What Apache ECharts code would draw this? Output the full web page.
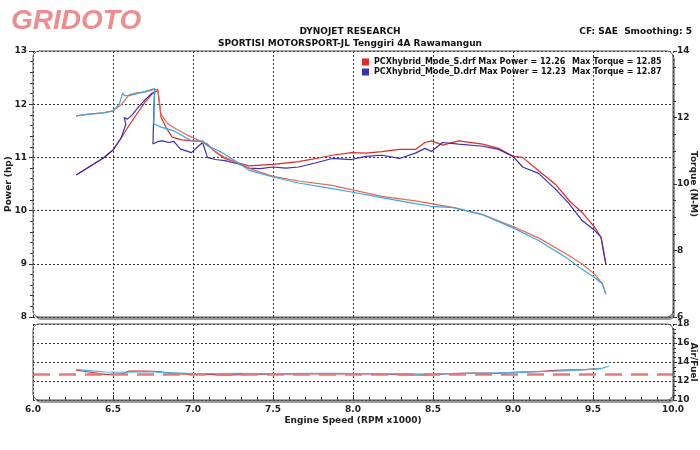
<!DOCTYPE html>
<html><head><meta charset="utf-8">
<script src="https://cdn.jsdelivr.net/npm/echarts@6/dist/echarts.min.js"></script>
<style>html,body{margin:0;padding:0;background:#fff}#c{width:700px;height:450px}</style>
</head><body><div id="c"></div>
<script>
// ---------- data ----------
const runNames = ['PCXhybrid_Mode_S.drf', 'PCXhybrid_Mode_D.drf'];
const maxPower = [12.26, 12.23];
const maxTorque = [12.85, 12.87];
const xTicks = [6.0, 6.5, 7.0, 7.5, 8.0, 8.5, 9.0, 9.5, 10.0];

const rpmPowerS = [6.27, 6.35, 6.44, 6.50, 6.55, 6.60, 6.65, 6.70, 6.74, 6.78, 6.79, 6.80, 6.83, 6.87, 6.93, 7.00, 7.05, 7.09, 7.14, 7.20, 7.28, 7.35, 7.50, 7.66, 7.77, 7.87, 7.99, 8.08, 8.18, 8.29, 8.39, 8.45, 8.49, 8.56, 8.66, 8.81, 8.91, 9.00, 9.06, 9.16, 9.27, 9.35, 9.43, 9.51, 9.55, 9.58];
const powerS = [10.67, 10.82, 10.99, 11.14, 11.36, 11.60, 11.82, 12.04, 12.18, 12.26, 12.02, 11.76, 11.57, 11.38, 11.33, 11.31, 11.30, 11.25, 11.10, 10.98, 10.90, 10.84, 10.87, 10.92, 10.98, 11.04, 11.09, 11.08, 11.11, 11.15, 11.15, 11.28, 11.31, 11.23, 11.31, 11.25, 11.17, 11.02, 11.00, 10.75, 10.48, 10.19, 9.97, 9.69, 9.50, 9.00];

const rpmPowerD = [6.27, 6.35, 6.44, 6.50, 6.55, 6.58, 6.57, 6.59, 6.62, 6.66, 6.70, 6.74, 6.76, 6.755, 6.75, 6.78, 6.81, 6.85, 6.88, 6.92, 6.99, 7.03, 7.06, 7.09, 7.14, 7.20, 7.28, 7.35, 7.42, 7.50, 7.58, 7.66, 7.77, 7.87, 7.99, 8.08, 8.18, 8.29, 8.39, 8.45, 8.49, 8.56, 8.66, 8.81, 8.91, 9.00, 9.06, 9.16, 9.27, 9.35, 9.43, 9.51, 9.55, 9.58];
const powerD = [10.67, 10.82, 10.99, 11.14, 11.36, 11.62, 11.75, 11.72, 11.80, 11.95, 12.08, 12.20, 12.23, 11.90, 11.25, 11.30, 11.31, 11.28, 11.30, 11.16, 11.09, 11.20, 11.28, 11.00, 10.96, 10.94, 10.88, 10.80, 10.79, 10.82, 10.80, 10.82, 10.90, 10.98, 10.96, 11.02, 11.04, 10.98, 11.08, 11.17, 11.11, 11.28, 11.25, 11.21, 11.15, 11.02, 10.82, 10.70, 10.39, 10.13, 9.82, 9.63, 9.50, 9.00];

const rpmTorqueS = [6.27, 6.35, 6.44, 6.50, 6.55, 6.60, 6.65, 6.70, 6.75, 6.78, 6.80, 6.84, 6.90, 6.96, 7.02, 7.08, 7.14, 7.20, 7.28, 7.35, 7.50, 7.66, 7.87, 7.99, 8.18, 8.39, 8.49, 8.63, 8.81, 9.00, 9.16, 9.33, 9.43, 9.51, 9.56, 9.58];
const torqueS = [12.05, 12.10, 12.14, 12.20, 12.38, 12.68, 12.74, 12.77, 12.83, 12.85, 12.10, 11.82, 11.64, 11.48, 11.35, 11.20, 10.98, 10.80, 10.63, 10.47, 10.23, 10.09, 9.96, 9.83, 9.63, 9.49, 9.41, 9.29, 9.08, 8.72, 8.38, 7.90, 7.60, 7.29, 6.99, 6.69];

const rpmTorqueD = [6.27, 6.35, 6.44, 6.50, 6.54, 6.56, 6.57, 6.60, 6.65, 6.70, 6.76, 6.755, 6.80, 6.88, 6.99, 7.03, 7.06, 7.09, 7.18, 7.28, 7.35, 7.50, 7.66, 7.87, 7.99, 8.18, 8.39, 8.49, 8.63, 8.81, 9.00, 9.16, 9.33, 9.43, 9.51, 9.56, 9.58];
const torqueD = [12.05, 12.10, 12.14, 12.20, 12.40, 12.74, 12.66, 12.66, 12.72, 12.78, 12.87, 11.81, 11.71, 11.60, 11.30, 11.28, 11.30, 11.15, 10.95, 10.65, 10.41, 10.21, 10.03, 9.86, 9.76, 9.59, 9.41, 9.33, 9.29, 9.08, 8.68, 8.30, 7.80, 7.44, 7.19, 6.99, 6.69];

const rpmAfrS = [6.27, 6.35, 6.45, 6.55, 6.60, 6.70, 6.79, 6.85, 7.00, 7.10, 7.20, 7.35, 7.50, 7.65, 7.80, 8.00, 8.15, 8.30, 8.45, 8.60, 8.75, 8.90, 9.00, 9.15, 9.30, 9.45, 9.55];
const afrS = [13.15, 12.95, 12.70, 12.70, 13.05, 13.05, 13.00, 12.80, 12.70, 12.70, 12.62, 12.70, 12.72, 12.75, 12.78, 12.75, 12.75, 12.68, 12.62, 12.78, 12.82, 12.80, 12.90, 13.00, 13.15, 13.20, 13.30];

const rpmAfrD = [6.27, 6.35, 6.45, 6.55, 6.65, 6.75, 6.85, 7.00, 7.15, 7.30, 7.50, 7.70, 7.90, 8.10, 8.30, 8.50, 8.70, 8.90, 9.05, 9.20, 9.35, 9.50, 9.56, 9.60];
const afrD = [13.22, 13.10, 12.95, 12.92, 12.95, 12.95, 12.88, 12.78, 12.78, 12.80, 12.75, 12.80, 12.80, 12.78, 12.75, 12.72, 12.80, 12.85, 12.90, 13.00, 13.10, 13.25, 13.35, 13.55];

const afrTarget = 12.67;

// ---------- layout & style ----------
const PL = 33, PW = 640, T1 = 51, H1 = 266, T2 = 324, H2 = 76;
const FONT = 'DejaVu Sans';
const dotted = { color: '#333', width: 1, type: [2, 2] };
const lbl = { color: '#222', fontFamily: FONT, fontWeight: 'bold', fontSize: 9 };
const pair = (xs, ys) => xs.map((x, i) => [x, ys[i]]);

const colors = {
  powerS: '#e02a2a', torqueS: '#e8684e',
  powerD: '#3a2fae', torqueD: '#3aa6e6',
  afrS: '#d83232', afrD: '#4ab0ea'
};

const chart = echarts.init(document.getElementById('c'), null, { renderer: 'canvas' });

const lineSeries = (name, xs, ys, color, xi, yi, extra) => Object.assign({
  name, type: 'line', xAxisIndex: xi, yAxisIndex: yi,
  data: pair(xs, ys), showSymbol: false, symbol: 'none', smooth: false,
  lineStyle: { color, width: 1.2 }, itemStyle: { color }, animation: false, z: 3
}, extra || {});

const panel = (y, h) => ([
  { type: 'rect', shape: { x: PL + 2, y: y + 3, width: PW, height: h, r: 6 }, z: -6, silent: true,
    style: { fill: '#9a9a9a' } },
  { type: 'rect', shape: { x: PL, y: y, width: PW, height: h, r: 6 }, z: -5, silent: true,
    style: { fill: '#fff' } },
  { type: 'rect', shape: { x: PL, y: y, width: PW, height: h, r: 6 }, z: 50, silent: true,
    style: { fill: 'none', stroke: '#555', lineWidth: 1 } }
]);

const option = {
  animation: false,
  backgroundColor: '#fff',
  title: [
    { text: 'DYNOJET RESEARCH', subtext: 'SPORTISI MOTORSPORT-JL Tenggiri 4A Rawamangun',
      left: 'center', top: 27, itemGap: 3, padding: 0,
      textStyle: { fontFamily: FONT, fontWeight: 'bold', fontSize: 9, color: '#111' },
      subtextStyle: { fontFamily: FONT, fontWeight: 'bold', fontSize: 9, color: '#111' } },
    { text: 'CF: SAE  Smoothing: 5', right: 8, top: 27, padding: 0,
      textStyle: { fontFamily: FONT, fontWeight: 'bold', fontSize: 9, color: '#111' } }
  ],
  legend: {
    data: runNames, orient: 'vertical', left: 362, top: 58, itemGap: 2,
    itemWidth: 7, itemHeight: 7, icon: 'rect', padding: 0,
    selectedMode: false,
    formatter: (name) => {
      const i = runNames.indexOf(name);
      return '{a|' + name + ' Max Power = ' + maxPower[i].toFixed(2) + '}{b|Max Torque = ' + maxTorque[i].toFixed(2) + '}';
    },
    textStyle: {
      rich: {
        a: { fontFamily: FONT, fontWeight: 'bold', fontSize: 8, color: '#111', width: 198 },
        b: { fontFamily: FONT, fontWeight: 'bold', fontSize: 8, color: '#111' }
      }
    }
  },
  graphic: [
    { type: 'text', left: 11, top: 7, z: 10,
      style: { text: 'GRIDOTO', fill: '#ef8c8e', font: 'italic 900 28px "Liberation Sans"' } }
  ].concat(panel(T1, H1), panel(T2, H2)),
  grid: [
    { left: PL, width: PW, top: T1, height: H1, outerBoundsMode: 'none', containLabel: false },
    { left: PL, width: PW, top: T2, height: H2, outerBoundsMode: 'none', containLabel: false }
  ],
  xAxis: [
    { type: 'value', gridIndex: 0, min: xTicks[0], max: xTicks[xTicks.length - 1], interval: 0.5,
      axisLine: { show: false }, axisTick: { show: false }, axisLabel: { show: false },
      splitLine: { show: true, lineStyle: dotted } },
    { type: 'value', gridIndex: 1, min: xTicks[0], max: xTicks[xTicks.length - 1], interval: 0.5,
      axisLine: { show: false },
      axisTick: { show: true, inside: true, length: 5, lineStyle: { color: '#333' } },
      minorTick: { show: true, splitNumber: 5, length: 3, lineStyle: { color: '#333' } },
      axisLabel: Object.assign({ margin: 5, formatter: v => v.toFixed(1) }, lbl),
      splitLine: { show: true, lineStyle: dotted },
      name: 'Engine Speed (RPM x1000)', nameLocation: 'middle', nameGap: 16, nameMoveOverlap: false,
      nameTextStyle: lbl }
  ],
  yAxis: [
    { type: 'value', gridIndex: 0, position: 'left', min: 8, max: 13, interval: 1,
      axisLine: { show: false },
      axisTick: { show: true, length: 4, lineStyle: { color: '#333' } },
      minorTick: { show: true, splitNumber: 5, length: 3, lineStyle: { color: '#333' } },
      axisLabel: Object.assign({ margin: 6 }, lbl),
      splitLine: { show: true, lineStyle: dotted },
      name: 'Power (hp)', nameLocation: 'middle', nameGap: 24, nameRotate: 90, nameMoveOverlap: false,
      nameTextStyle: Object.assign({ verticalAlign: 'middle' }, lbl) },
    { type: 'value', gridIndex: 0, position: 'right', min: 6, max: 14, interval: 2,
      axisLine: { show: false },
      axisTick: { show: true, length: 4, lineStyle: { color: '#333' } },
      minorTick: { show: true, splitNumber: 4, length: 3, lineStyle: { color: '#333' } },
      axisLabel: Object.assign({ margin: 4 }, lbl),
      splitLine: { show: false },
      name: 'Torque (N-M)', nameLocation: 'middle', nameGap: 20, nameRotate: -90, nameMoveOverlap: false,
      nameTextStyle: Object.assign({ verticalAlign: 'middle' }, lbl) },
    { type: 'value', gridIndex: 1, position: 'left', min: 10, max: 18, interval: 2,
      axisLine: { show: false }, axisTick: { show: false }, axisLabel: { show: false },
      splitLine: { show: true, lineStyle: dotted } },
    { type: 'value', gridIndex: 1, position: 'right', min: 10, max: 18, interval: 2,
      axisLine: { show: false },
      axisTick: { show: true, length: 4, lineStyle: { color: '#333' } },
      minorTick: { show: true, splitNumber: 4, length: 3, lineStyle: { color: '#333' } },
      axisLabel: Object.assign({ margin: 4 }, lbl),
      splitLine: { show: false },
      name: 'Air/Fuel', nameLocation: 'middle', nameGap: 20, nameRotate: -90, nameMoveOverlap: false,
      nameTextStyle: Object.assign({ verticalAlign: 'middle' }, lbl) }
  ],
  series: [
    lineSeries(runNames[0], rpmPowerS, powerS, colors.powerS, 0, 0),
    lineSeries(runNames[1], rpmPowerD, powerD, colors.powerD, 0, 0),
    lineSeries(runNames[0], rpmTorqueS, torqueS, colors.torqueS, 0, 1),
    lineSeries(runNames[1], rpmTorqueD, torqueD, colors.torqueD, 0, 1),
    lineSeries(runNames[0], rpmAfrS, afrS, colors.afrS, 1, 3, {
      markLine: {
        silent: true, symbol: 'none', label: { show: false },
        lineStyle: { color: '#e27a7a', width: 2.5, type: [17, 9] },
        data: [{ yAxis: afrTarget }]
      }
    }),
    lineSeries(runNames[1], rpmAfrD, afrD, colors.afrD, 1, 3)
  ]
};
chart.setOption(option);
</script>
</body></html>
